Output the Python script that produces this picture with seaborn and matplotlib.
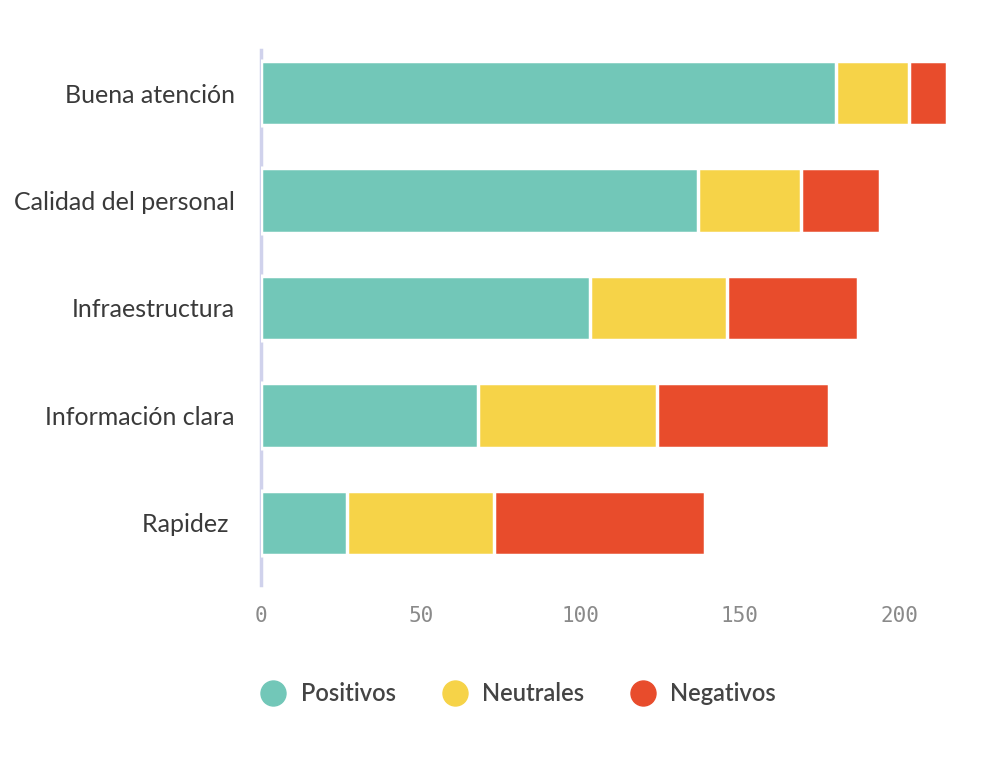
import pandas as pd
import matplotlib
matplotlib.use('Agg')
import matplotlib.pyplot as plt
import seaborn as sns
from matplotlib.lines import Line2D

### values
categorias = ['Buena atención', 'Calidad del personal', 'Infraestructura',
              'Información clara', 'Rapidez ']
positivos = [180, 137, 103, 68, 27]
neutrales = [23, 32, 43, 56, 46]
negativos = [12, 25, 41, 54, 66]
ticks_x = [0, 50, 100, 150, 200]

col_pos = '#72c7b8'
col_neu = '#f6d348'
col_neg = '#e84c2c'

sns.set_style('white')
plt.rcParams['font.family'] = ['Lato', 'DejaVu Sans']

df = pd.DataFrame({'cat': categorias, 'pos': positivos, 'neu': neutrales, 'neg': negativos})
### cumulative sums so the bars can be stacked by overlapping
df['c_neu'] = df['pos'] + df['neu']
df['c_neg'] = df['c_neu'] + df['neg']

fig = plt.figure(figsize=(9.85, 7.58), dpi=100)
ax = fig.add_axes([0.265, 0.228, 0.713, 0.706])

for col, color in [('c_neg', col_neg), ('c_neu', col_neu), ('pos', col_pos)]:
    sns.barplot(data=df, x=col, y='cat', orient='h', color=color, width=0.6,
                saturation=1, edgecolor='white', linewidth=2.5, ax=ax)

ax.set_xlim(0, 220)
ax.set_ylim(4.58, -0.4)
ax.set_xlabel('')
ax.set_ylabel('')
ax.set_xticks(ticks_x)
ax.set_xticklabels([str(t) for t in ticks_x], family='DejaVu Sans Mono',
                   fontsize=15, color='#8a8a8a')
ax.tick_params(axis='x', length=0, pad=15)
ax.tick_params(axis='y', length=0, pad=19, labelsize=18, labelcolor='#3a3a3a')

for s in ['top', 'right', 'bottom']:
    ax.spines[s].set_visible(False)
ax.spines['left'].set_color('#d0d2ec')
ax.spines['left'].set_linewidth(2.5)
ax.spines['left'].set_zorder(0)

handles = [Line2D([], [], marker='o', linestyle='', markersize=18, color=c)
           for c in [col_pos, col_neu, col_neg]]
fig.legend(handles, ['Positivos', 'Neutrales', 'Negativos'], loc='center left',
           bbox_to_anchor=(0.232, 0.085), ncol=3, frameon=False,
           handletextpad=0.15, columnspacing=1.5,
           labelcolor='#444444', prop={'weight': 'semibold', 'size': 17})

fig.savefig('out.png', dpi=100)
